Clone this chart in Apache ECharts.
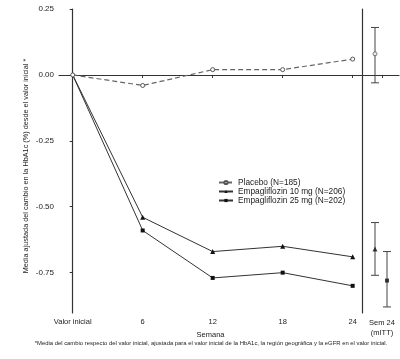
<!DOCTYPE html>
<html><head><meta charset="utf-8">
<script src="https://cdn.jsdelivr.net/npm/echarts@6/dist/echarts.min.js"></script>
<style>html,body{margin:0;padding:0;background:#fff}#c{width:400px;height:359px}</style>
</head><body><div id="c"></div>
<script>
var weeks = [0, 6, 12, 18, 24];
var weekLabels = ['Valor inicial', '6', '12', '18', '24'];
var yTicks = [0.25, 0, -0.25, -0.5, -0.75];
var seriesNames = ['Placebo (N=185)', 'Empagliflozin 10 mg (N=206)', 'Empagliflozin 25 mg (N=202)'];
var placebo = [0, -0.04, 0.02, 0.02, 0.06];
var empa10 = [0, -0.54, -0.67, -0.65, -0.69];
var empa25 = [0, -0.59, -0.77, -0.75, -0.80];
var sem24Week = 24;
var sem24Label = 'Sem 24\n(mITT)';
var sem24Mean = [0.08, -0.66, -0.78];
var sem24Low = [-0.03, -0.76, -0.88];
var sem24High = [0.18, -0.56, -0.67];

var FONT = 'Liberation Sans, Arial, sans-serif';
var TXT = '#222';
var AX = '#333';
var yMin = -0.903, yMax = 0.25;
var symbols = ['circle', 'triangle', 'rect'];
var sizes = [4, 5, 4];
var lineColors = ['#666', '#333', '#333'];
var offsets = [-7, -7, 5];
var allData = [placebo, empa10, empa25];

function pts(arr, idx) {
  return weeks.map(function (w, i) {
    var d = { value: [w, arr[i]] };
    if (i === 0 && idx > 0) d.symbol = 'none';
    return d;
  });
}

var chart = echarts.init(document.getElementById('c'), null, { renderer: 'canvas' });
var series = [];
[2, 1, 0].forEach(function (k) {
  series.push({
    name: seriesNames[k], type: 'line', xAxisIndex: 0, yAxisIndex: 0,
    data: pts(allData[k], k), symbol: symbols[k], symbolSize: sizes[k],
    lineStyle: { color: lineColors[k], width: k === 0 ? 1.2 : 1, type: k === 0 ? [5, 3] : 'solid' },
    itemStyle: k === 0 ? { color: '#fff', borderColor: '#555', borderWidth: 1 } : { color: '#111', borderColor: '#111', borderWidth: 0 },
    showSymbol: true, animation: false, z: 3 + (2 - k)
  });
});
[0, 1, 2].forEach(function (k) {
  series.push({
    type: 'custom', xAxisIndex: 1, yAxisIndex: 1, animation: false, silent: true,
    data: [[sem24Week, sem24Low[k], sem24High[k]]],
    renderItem: function (params, api) {
      var lo = api.coord([api.value(0), api.value(1)]);
      var hi = api.coord([api.value(0), api.value(2)]);
      var x = lo[0] + offsets[k];
      var cw = 4;
      var st = { stroke: '#444', lineWidth: 1 };
      return { type: 'group', children: [
        { type: 'line', shape: { x1: x, y1: lo[1], x2: x, y2: hi[1] }, style: st },
        { type: 'line', shape: { x1: x - cw, y1: lo[1], x2: x + cw, y2: lo[1] }, style: st },
        { type: 'line', shape: { x1: x - cw, y1: hi[1], x2: x + cw, y2: hi[1] }, style: st }
      ] };
    }
  });
  series.push({
    type: 'scatter', xAxisIndex: 1, yAxisIndex: 1, animation: false, silent: true,
    data: [[sem24Week, sem24Mean[k]]], symbol: symbols[k], symbolSize: sizes[k],
    symbolOffset: [offsets[k], 0], z: 5,
    itemStyle: k === 0 ? { color: '#fff', borderColor: '#555', borderWidth: 1 } : { color: '#111' }
  });
});

var option = {
  backgroundColor: '#fff',
  animation: false,
  grid: [
    { left: 59, top: 9, width: 303, bottom: 46 },
    { left: 362, top: 9, width: 37, bottom: 46 }
  ],
  xAxis: [
    { type: 'value', gridIndex: 0, min: -1.174, max: 24.8, splitLine: { show: false },
      axisLine: { lineStyle: { color: AX, width: 1.2 } },
      axisTick: { show: true, length: 3, customValues: weeks, lineStyle: { color: AX } },
      axisLabel: { customValues: weeks, margin: 5, color: TXT, fontSize: 7.5, fontFamily: FONT,
        formatter: function (v) { var i = weeks.indexOf(v); return i >= 0 ? weekLabels[i] : ''; } },
      name: 'Semana', nameLocation: 'middle', nameGap: 14,
      nameTextStyle: { color: TXT, fontSize: 7.5, fontFamily: FONT } },
    { type: 'value', gridIndex: 1, min: 22, max: 25.7, splitLine: { show: false },
      axisLine: { lineStyle: { color: AX, width: 1.2 } },
      axisTick: { show: true, length: 3, customValues: [sem24Week], lineStyle: { color: AX } },
      axisLabel: { customValues: [sem24Week], margin: 5, color: TXT, fontSize: 7.5, fontFamily: FONT, lineHeight: 10,
        formatter: function () { return sem24Label; } } }
  ],
  yAxis: [
    { type: 'value', gridIndex: 0, min: yMin, max: yMax, splitLine: { show: false },
      axisLine: { show: true, lineStyle: { color: AX, width: 1.2 } },
      axisTick: { show: true, length: 3, customValues: yTicks, lineStyle: { color: AX } },
      axisLabel: { customValues: yTicks, margin: 5, color: TXT, fontSize: 8, fontFamily: FONT,
        formatter: function (v) { return v.toFixed(2); } } },
    { type: 'value', gridIndex: 1, min: yMin, max: yMax, splitLine: { show: false },
      axisLine: { show: true, lineStyle: { color: AX, width: 1.2 } },
      axisTick: { show: false }, axisLabel: { show: false } }
  ],
  legend: {
    data: seriesNames, orient: 'vertical', left: 213, top: 173, itemWidth: 14, itemHeight: 4, itemGap: 0,
    textStyle: { color: TXT, fontSize: 8.3, fontFamily: FONT, lineHeight: 9 }, selectedMode: false
  },
  graphic: [
    { type: 'text', x: 26, y: 166, rotation: Math.PI / 2,
      style: { text: 'Media ajustada del cambio en la HbA1c (%) desde el valor inicial *', fill: TXT,
        font: '7.3px ' + FONT, textAlign: 'center', textVerticalAlign: 'middle' } },
    { type: 'text', x: 211, y: 343,
      style: { text: '*Media del cambio respecto del valor inicial, ajustada para el valor inicial de la HbA1c, la región geográfica y la eGFR en el valor inicial.',
        fill: TXT, font: '5.9px ' + FONT, textAlign: 'center', textVerticalAlign: 'middle' } }
  ],
  series: series
};
chart.setOption(option);
</script></body></html>
